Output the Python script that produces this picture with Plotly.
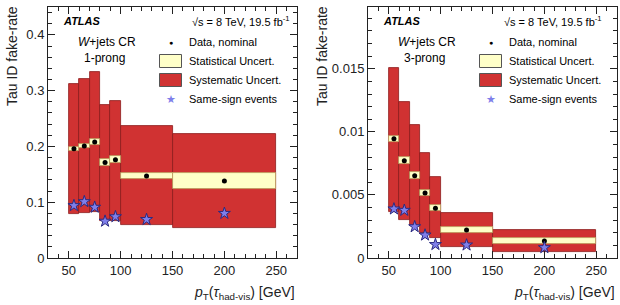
import plotly.graph_objects as go
from plotly.subplots import make_subplots

# ---- data ----
bin_edges = [50, 60, 70, 80, 90, 100, 150, 250]
bin_centers = [55, 65, 75, 85, 95, 125, 200]

# 1-prong
L_val = [0.196, 0.201, 0.208, 0.171, 0.176, 0.147, 0.138]
L_stat_err = [0.0035, 0.004, 0.005, 0.006, 0.0065, 0.006, 0.014]
L_syst_hi = [0.312, 0.321, 0.333, 0.274, 0.281, 0.237, 0.222]
L_syst_lo = [0.078, 0.080, 0.083, 0.067, 0.066, 0.059, 0.054]
L_ss = [0.094, 0.101, 0.091, 0.066, 0.074, 0.069, 0.080]

# 3-prong
R_val = [0.00945, 0.00772, 0.00653, 0.00515, 0.00394, 0.00222, 0.00135]
R_stat_err = [0.00025, 0.00025, 0.00025, 0.00025, 0.00025, 0.0002, 0.00024]
R_syst_hi = [0.0151, 0.0124, 0.01057, 0.0083, 0.0064, 0.0036, 0.0022]
R_syst_lo = [0.00365, 0.00305, 0.00256, 0.0020, 0.00155, 0.00087, 0.00044]
R_ss = [0.00389, 0.00378, 0.00248, 0.00182, 0.00107, 0.00103, 0.00082]

widths = [bin_edges[i + 1] - bin_edges[i] for i in range(len(bin_centers))]

W, H = 620, 305
MT, MB = 7, 47
PH = H - MT - MB

def pxx(x):
    return x / W

def pxy(y):
    return (H - MB - y) / PH

SYST_FILL = "#d03232"
SYST_LINE = "#8c1c1c"
STAT_FILL = "#ffffc8"
STAT_LINE = "#b89a5a"
STAR_FILL = "#7f7fea"
STAR_LINE = "#2a2a80"
FONT = "Liberation Sans, Arial, sans-serif"

fig = make_subplots(rows=1, cols=2)

def add_panel(col, val, stat_err, shi, slo, ss):
    fig.add_trace(go.Bar(
        x=bin_centers, base=slo, y=[h - l for h, l in zip(shi, slo)], width=widths,
        marker=dict(color=SYST_FILL, line=dict(color=SYST_LINE, width=0.8)),
        showlegend=False, hoverinfo="skip"), row=1, col=col)
    fig.add_trace(go.Bar(
        x=bin_centers, base=[v - e for v, e in zip(val, stat_err)],
        y=[2 * e for e in stat_err], width=widths,
        marker=dict(color=STAT_FILL, line=dict(color=STAT_LINE, width=0.8)),
        showlegend=False, hoverinfo="skip"), row=1, col=col)
    fig.add_trace(go.Scatter(
        x=bin_centers, y=val, mode="markers",
        marker=dict(color="black", size=5),
        showlegend=False), row=1, col=col)
    fig.add_trace(go.Scatter(
        x=bin_centers, y=ss, mode="markers",
        marker=dict(symbol="star", color=STAR_FILL, size=9,
                    line=dict(color=STAR_LINE, width=1)),
        showlegend=False), row=1, col=col)

add_panel(1, L_val, L_stat_err, L_syst_hi, L_syst_lo, L_ss)
add_panel(2, R_val, R_stat_err, R_syst_hi, R_syst_lo, R_ss)

axis_common = dict(
    showline=True, linecolor="#222", linewidth=1, mirror="allticks",
    ticks="inside", ticklen=7, tickcolor="#222", showgrid=False, zeroline=False,
    tickfont=dict(family=FONT, size=13, color="#222"),
)

fig.update_xaxes(range=[30, 270], tickvals=[50, 100, 150, 200, 250],
                 minor=dict(dtick=10, tick0=0, ticks="inside", ticklen=4, tickcolor="#222"),
                 **axis_common)
fig.update_xaxes(domain=[48 / W, 297 / W], row=1, col=1)
fig.update_xaxes(domain=[368 / W, 617 / W], row=1, col=2)

fig.update_yaxes(range=[0, 0.45], row=1, col=1,
                 tickvals=[0, 0.1, 0.2, 0.3, 0.4], ticktext=["0", "0.1", "0.2", "0.3", "0.4"],
                 minor=dict(dtick=0.02, tick0=0, ticks="inside", ticklen=4, tickcolor="#222"),
                 **axis_common)
fig.update_yaxes(range=[0, 0.0199], row=1, col=2,
                 tickvals=[0, 0.005, 0.01, 0.015], ticktext=["0", "0.005", "0.01", "0.015"],
                 minor=dict(dtick=0.001, tick0=0, ticks="inside", ticklen=4, tickcolor="#222"),
                 **axis_common)

ann = []
shapes = []

def txt(x, y, s, size=11, xanchor="left", **kw):
    ann.append(dict(x=pxx(x), y=pxy(y), xref="paper", yref="paper", text=s,
                    showarrow=False, xanchor=xanchor, yanchor="middle",
                    font=dict(family=FONT, size=size, color="black"), **kw))

def panel_text(dx, region_label, sqrt_x, title_x):
    # y title
    ann.append(dict(x=pxx(title_x), y=pxy(4), xref="paper", yref="paper",
                    text="Tau ID fake-rate", textangle=-90, showarrow=False,
                    xanchor="center", yanchor="top",
                    font=dict(family=FONT, size=14, color="#222")))
    # x title
    ann.append(dict(x=pxx(297 + dx), y=pxy(293), xref="paper", yref="paper",
                    text="<i>p</i><sub>T</sub>(<i>τ</i><sub>had-vis</sub>) [GeV]",
                    showarrow=False, xanchor="right", yanchor="middle",
                    font=dict(family=FONT, size=14, color="#222")))
    txt(61 + dx, 21, "<b><i>ATLAS</i></b>", size=11)
    txt(sqrt_x, 21, "√s = 8 TeV, 19.5 fb<sup>-1</sup>", size=11, xanchor="right")
    txt(76 + dx, 42, "<i>W</i>+jets CR", size=12)
    txt(82 + dx, 58, region_label, size=12)
    # legend
    ann.append(dict(x=pxx(171 + dx), y=pxy(42), xref="paper", yref="paper", text="●",
                    showarrow=False, xanchor="center", yanchor="middle",
                    font=dict(family=FONT, size=7, color="black")))
    txt(187 + dx, 42, "Data, nominal")
    shapes.append(dict(type="rect", xref="paper", yref="paper",
                       x0=pxx(159.5 + dx), x1=pxx(181.5 + dx), y0=pxy(54.5), y1=pxy(67.5),
                       fillcolor=STAT_FILL, line=dict(color="#555", width=1)))
    txt(187 + dx, 61, "Statistical Uncert.")
    shapes.append(dict(type="rect", xref="paper", yref="paper",
                       x0=pxx(159.5 + dx), x1=pxx(181.5 + dx), y0=pxy(73.5), y1=pxy(86.5),
                       fillcolor=SYST_FILL, line=dict(color="#555", width=1)))
    txt(187 + dx, 80, "Systematic Uncert.")
    ann.append(dict(x=pxx(171 + dx), y=pxy(99.5), xref="paper", yref="paper", text="★",
                    showarrow=False, xanchor="center", yanchor="middle",
                    font=dict(family="DejaVu Sans", size=11, color=STAR_FILL)))
    txt(187 + dx, 99, "Same-sign events")

panel_text(0, "1-prong", 292, 12)
panel_text(320, "3-prong", 604, 322)

fig.update_layout(
    width=W, height=H, margin=dict(l=0, r=0, t=MT, b=MB),
    barmode="overlay", bargap=0,
    paper_bgcolor="white", plot_bgcolor="white",
    annotations=ann, shapes=shapes, showlegend=False,
)

fig.write_html("out.html")
